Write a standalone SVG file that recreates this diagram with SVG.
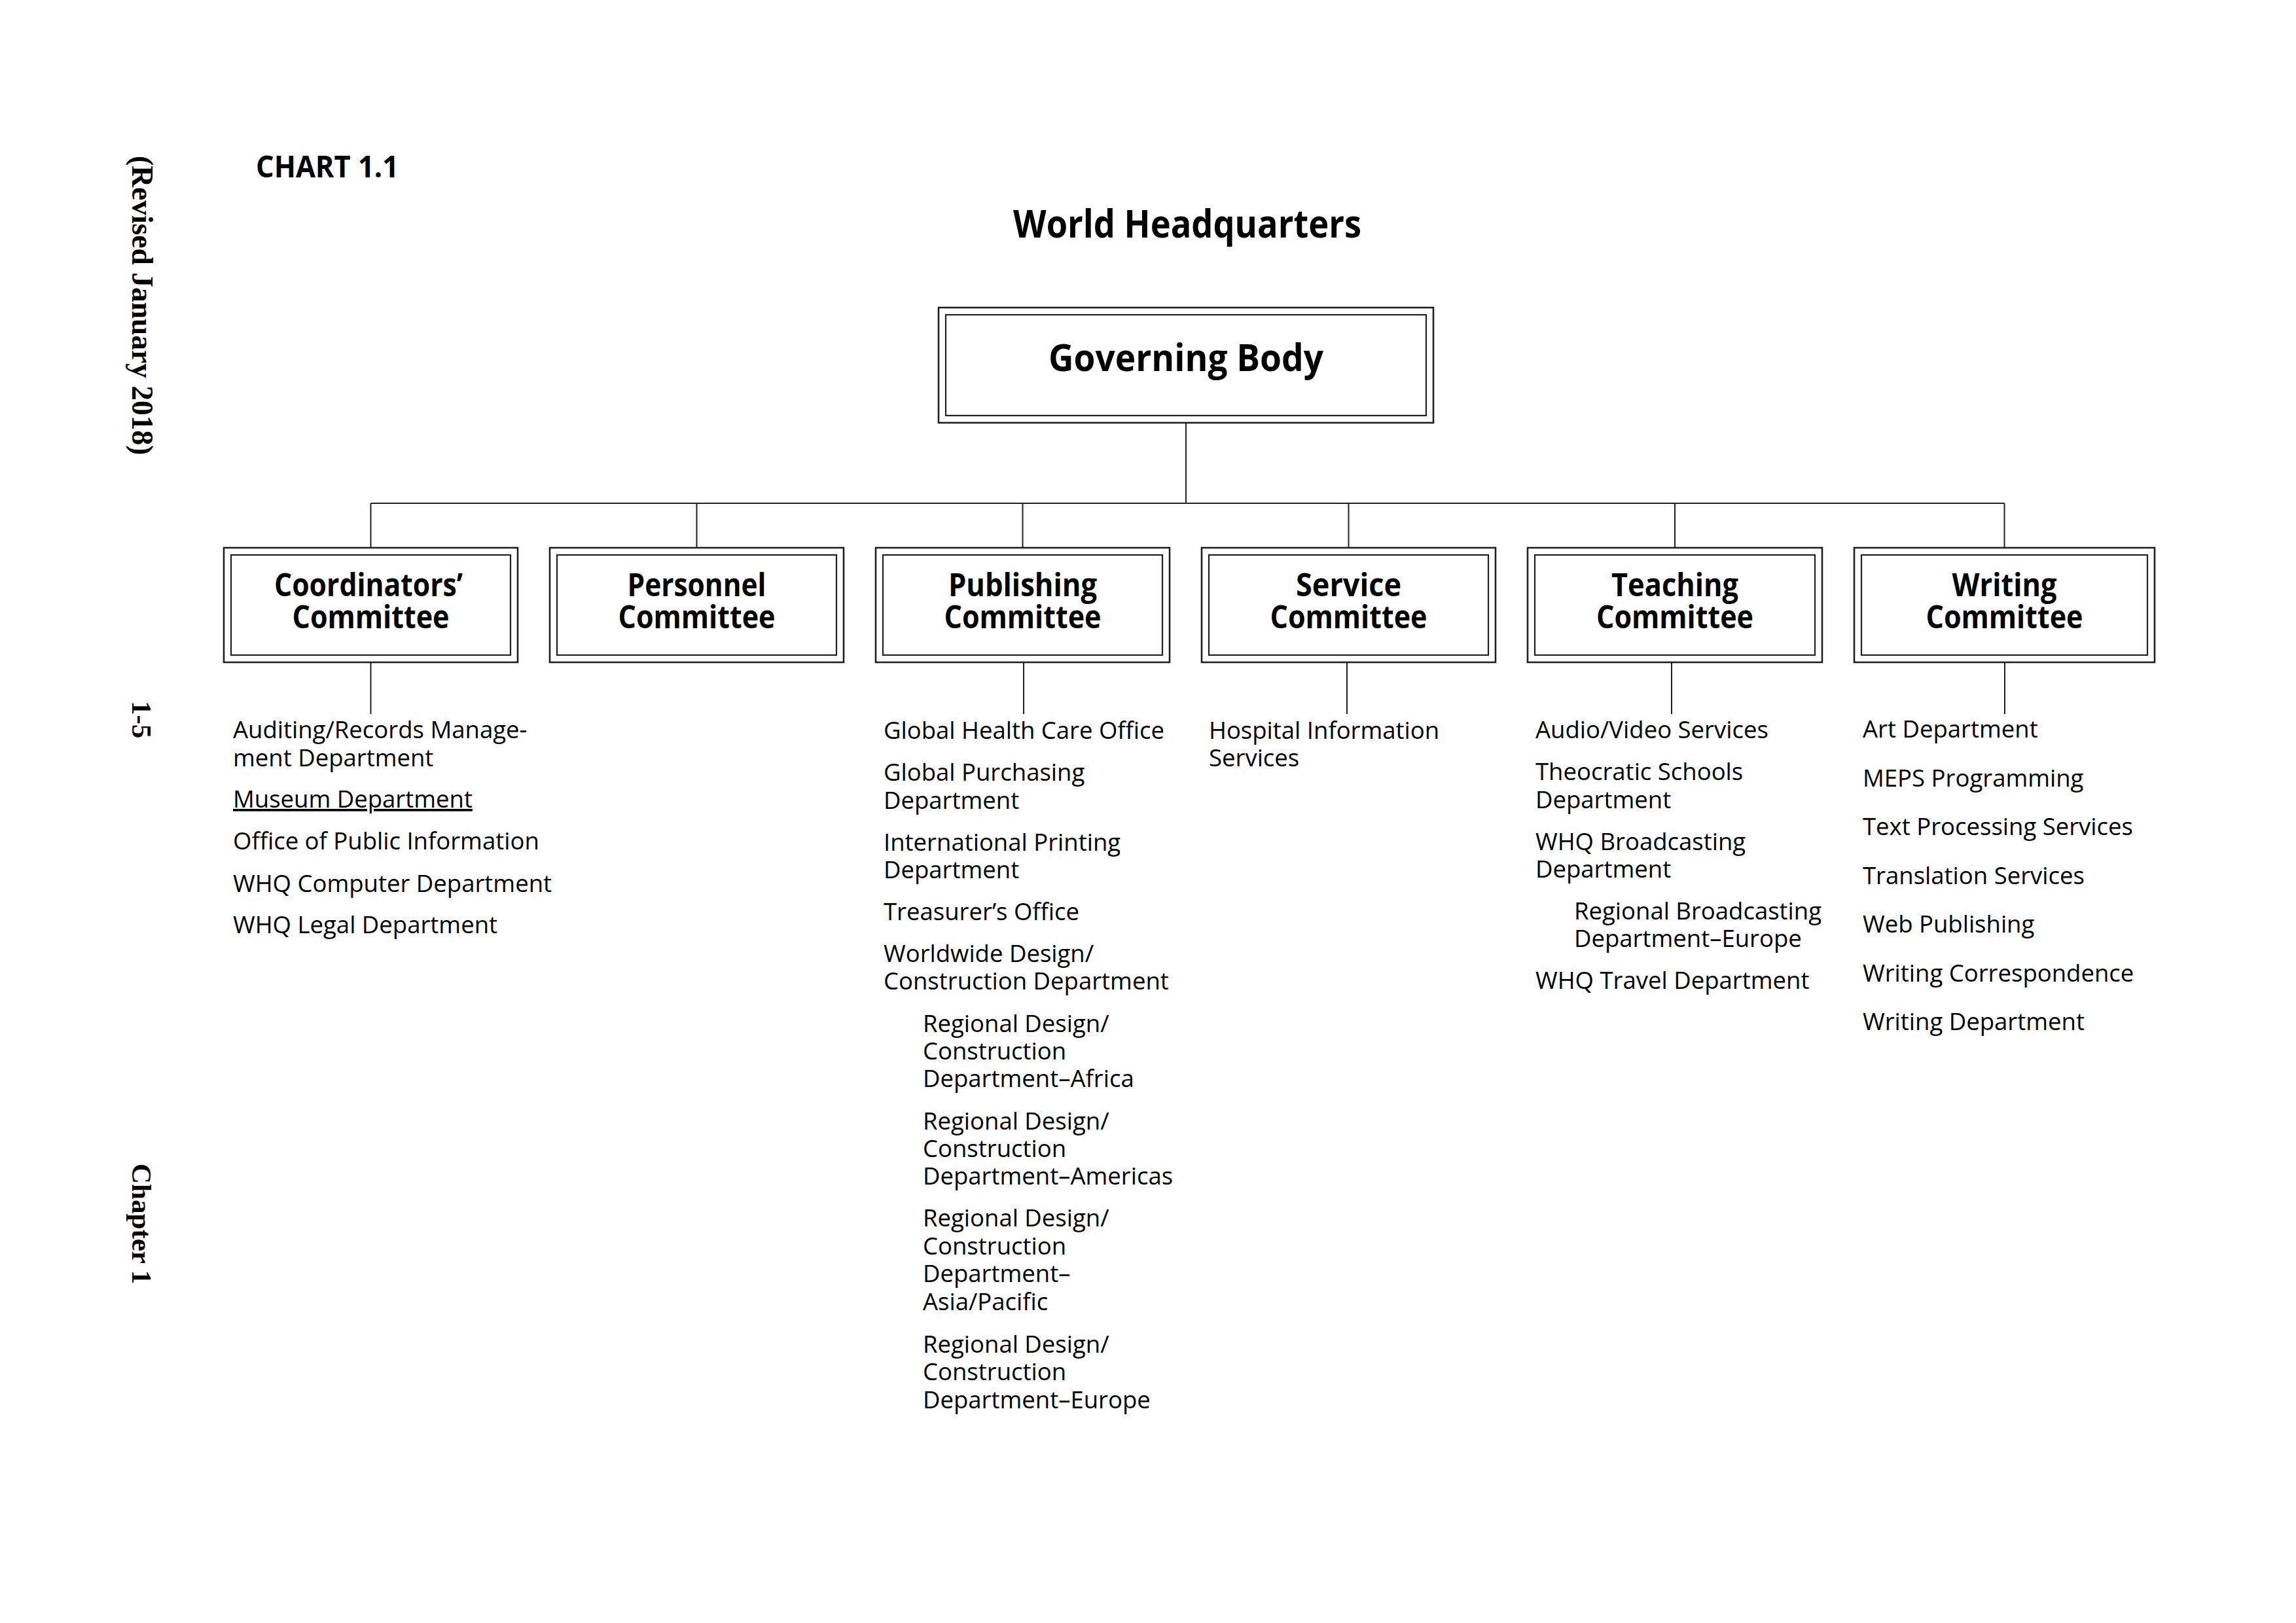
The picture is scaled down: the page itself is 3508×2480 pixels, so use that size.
<svg xmlns="http://www.w3.org/2000/svg" width="3508" height="2480" viewBox="0 0 3508 2480">
<style>
  .bg { fill: #ffffff; }
  .outer { fill: #ffffff; stroke: #231f20; stroke-width: 2.6; }
  .inner { fill: none; stroke: #231f20; stroke-width: 2.2; }
  .conn { stroke: #231f20; stroke-width: 2; fill: none; }
  .side { font-family: "Liberation Serif", "Times New Roman", serif; font-weight: bold; fill: #000; }
  .head { font-family: "Open Sans", "Noto Sans", "Liberation Sans", sans-serif; font-weight: bold; fill: #000; }
  .title { font-family: "Open Sans", "Noto Sans", "Liberation Sans", sans-serif; font-weight: bold; font-size: 49px; fill: #000; text-anchor: middle; }
  .item { font-family: "Open Sans", "Noto Sans", "Liberation Sans", sans-serif; font-size: 36.5px; fill: #000; }
</style>
<rect class="bg" x="0" y="0" width="3508" height="2480"/>

<!-- margin texts -->
<g id="margin">
  <text class="side" font-size="45.5" transform="translate(202,238) rotate(90)">(Revised January 2018)</text>
  <text class="side" font-size="43" transform="translate(202,1071) rotate(90)">1-5</text>
  <text class="side" font-size="43" transform="translate(202,1778) rotate(90)">Chapter 1</text>
</g>

<g id="headings">
  <text class="head" font-size="46" x="391" y="271" textLength="218" lengthAdjust="spacingAndGlyphs">CHART 1.1</text>
  <text class="head" font-size="59" x="1814" y="363" text-anchor="middle" textLength="532" lengthAdjust="spacingAndGlyphs">World Headquarters</text>
</g>

<!-- connectors -->
<g id="connectors">
  <line class="conn" x1="1812" y1="646" x2="1812" y2="769"/>
  <line class="conn" x1="566.5" y1="769" x2="3062.5" y2="769"/>
  <line class="conn" x1="566.5" y1="769" x2="566.5" y2="837"/>
  <line class="conn" x1="1064.5" y1="769" x2="1064.5" y2="837"/>
  <line class="conn" x1="1562.5" y1="769" x2="1562.5" y2="837"/>
  <line class="conn" x1="2060.5" y1="769" x2="2060.5" y2="837"/>
  <line class="conn" x1="2559" y1="769" x2="2559" y2="837"/>
  <line class="conn" x1="3062.5" y1="769" x2="3062.5" y2="837"/>
  <line class="conn" x1="566.5" y1="1012" x2="566.5" y2="1091"/>
  <line class="conn" x1="1564" y1="1012" x2="1564" y2="1091"/>
  <line class="conn" x1="2058" y1="1012" x2="2058" y2="1091"/>
  <line class="conn" x1="2554" y1="1012" x2="2554" y2="1091"/>
  <line class="conn" x1="3063" y1="1012" x2="3063" y2="1091"/>
</g>

<!-- Governing Body -->
<g id="governing-body">
  <rect class="outer" x="1434" y="470" width="756" height="176"/>
  <rect class="inner" x="1445" y="481" width="734" height="154"/>
  <text class="head" font-size="58" x="1812" y="567" text-anchor="middle" textLength="420" lengthAdjust="spacingAndGlyphs">Governing Body</text>
</g>

<!-- Coordinators' Committee -->
<g id="coordinators">
  <rect class="outer" x="342" y="837" width="449" height="175"/>
  <rect class="inner" x="353" y="848" width="427" height="153"/>
  <text class="title" x="563" y="911" textLength="288" lengthAdjust="spacingAndGlyphs">Coordinators’</text>
  <text class="title" x="566.5" y="960" textLength="240" lengthAdjust="spacingAndGlyphs">Committee</text>
  <g class="item">
    <text x="356" y="1128">Auditing/Records Manage-</text>
    <text x="356" y="1171">ment Department</text>
    <text x="356" y="1234" text-decoration="underline">Museum Department</text>
    <text x="356" y="1298">Office of Public Information</text>
    <text x="356" y="1363">WHQ Computer Department</text>
    <text x="356" y="1426">WHQ Legal Department</text>
  </g>
</g>

<!-- Personnel Committee -->
<g id="personnel">
  <rect class="outer" x="840" y="837" width="449" height="175"/>
  <rect class="inner" x="851" y="848" width="427" height="153"/>
  <text class="title" x="1064.5" y="911" textLength="212" lengthAdjust="spacingAndGlyphs">Personnel</text>
  <text class="title" x="1064.5" y="960" textLength="240" lengthAdjust="spacingAndGlyphs">Committee</text>
</g>

<!-- Publishing Committee -->
<g id="publishing">
  <rect class="outer" x="1338" y="837" width="449" height="175"/>
  <rect class="inner" x="1349" y="848" width="427" height="153"/>
  <text class="title" x="1562.5" y="911" textLength="227" lengthAdjust="spacingAndGlyphs">Publishing</text>
  <text class="title" x="1562.5" y="960" textLength="240" lengthAdjust="spacingAndGlyphs">Committee</text>
  <g class="item">
    <text x="1350" y="1129">Global Health Care Office</text>
    <text x="1350" y="1193">Global Purchasing</text>
    <text x="1350" y="1235.5">Department</text>
    <text x="1350" y="1299.5">International Printing</text>
    <text x="1350" y="1341.5">Department</text>
    <text x="1350" y="1405.5">Treasurer’s Office</text>
    <text x="1350" y="1470">Worldwide Design/</text>
    <text x="1350" y="1512">Construction Department</text>
    <text x="1410" y="1576.5">Regional Design/</text>
    <text x="1410" y="1619">Construction</text>
    <text x="1410" y="1661">Department–Africa</text>
    <text x="1410" y="1725.5">Regional Design/</text>
    <text x="1410" y="1768">Construction</text>
    <text x="1410" y="1810">Department–Americas</text>
    <text x="1410" y="1874">Regional Design/</text>
    <text x="1410" y="1917">Construction</text>
    <text x="1410" y="1958.5">Department–</text>
    <text x="1410" y="2001.5">Asia/Pacific</text>
    <text x="1410" y="2066.5">Regional Design/</text>
    <text x="1410" y="2109">Construction</text>
    <text x="1410" y="2151.5">Department–Europe</text>
  </g>
</g>

<!-- Service Committee -->
<g id="service">
  <rect class="outer" x="1836" y="837" width="449" height="175"/>
  <rect class="inner" x="1847" y="848" width="427" height="153"/>
  <text class="title" x="2060.5" y="911" textLength="161" lengthAdjust="spacingAndGlyphs">Service</text>
  <text class="title" x="2060.5" y="960" textLength="240" lengthAdjust="spacingAndGlyphs">Committee</text>
  <g class="item">
    <text x="1847" y="1129">Hospital Information</text>
    <text x="1847" y="1171">Services</text>
  </g>
</g>

<!-- Teaching Committee -->
<g id="teaching">
  <rect class="outer" x="2334" y="837" width="450" height="175"/>
  <rect class="inner" x="2345" y="848" width="428" height="153"/>
  <text class="title" x="2559" y="911" textLength="194" lengthAdjust="spacingAndGlyphs">Teaching</text>
  <text class="title" x="2559" y="960" textLength="240" lengthAdjust="spacingAndGlyphs">Committee</text>
  <g class="item">
    <text x="2346" y="1128">Audio/Video Services</text>
    <text x="2346" y="1192">Theocratic Schools</text>
    <text x="2346" y="1235">Department</text>
    <text x="2346" y="1299">WHQ Broadcasting</text>
    <text x="2346" y="1341">Department</text>
    <text x="2405" y="1405">Regional Broadcasting</text>
    <text x="2405" y="1447">Department–Europe</text>
    <text x="2346" y="1511">WHQ Travel Department</text>
  </g>
</g>

<!-- Writing Committee -->
<g id="writing">
  <rect class="outer" x="2833" y="837" width="459" height="175"/>
  <rect class="inner" x="2844" y="848" width="437" height="153"/>
  <text class="title" x="3062.5" y="911" textLength="160" lengthAdjust="spacingAndGlyphs">Writing</text>
  <text class="title" x="3062.5" y="960" textLength="240" lengthAdjust="spacingAndGlyphs">Committee</text>
  <g class="item">
    <text x="2846" y="1127">Art Department</text>
    <text x="2846" y="1201.5">MEPS Programming</text>
    <text x="2846" y="1276">Text Processing Services</text>
    <text x="2846" y="1350.5">Translation Services</text>
    <text x="2846" y="1425">Web Publishing</text>
    <text x="2846" y="1499.5">Writing Correspondence</text>
    <text x="2846" y="1574">Writing Department</text>
  </g>
</g>
</svg>
